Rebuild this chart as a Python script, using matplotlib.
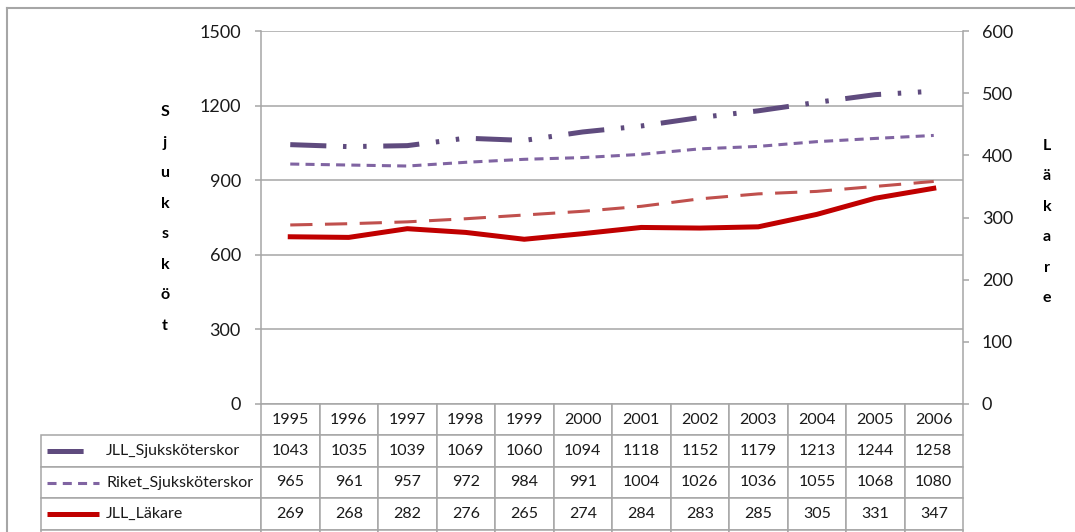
import matplotlib
matplotlib.use("Agg")
import matplotlib.pyplot as plt
from matplotlib.lines import Line2D

plt.rcParams["font.family"] = ["Lato", "DejaVu Sans"]
plt.rcParams["lines.scale_dashes"] = False

# data
years = ["1995", "1996", "1997", "1998", "1999", "2000",
         "2001", "2002", "2003", "2004", "2005", "2006"]
jll_ssk = [1043, 1035, 1039, 1069, 1060, 1094, 1118, 1152, 1179, 1213, 1244, 1258]
riket_ssk = [965, 961, 957, 972, 984, 991, 1004, 1026, 1036, 1055, 1068, 1080]
jll_lak = [269, 268, 282, 276, 265, 274, 284, 283, 285, 305, 331, 347]
riket_lak = [288, 290, 293, 298, 304, 310, 318, 330, 338, 342, 350, 358]
series_names = ["JLL_Sjuksköterskor", "Riket_Sjuksköterskor", "JLL_Läkare", "Riket_Läkare"]

GRID = "#a6a6a6"
styles = [
    dict(color="#5f4b7e", lw=3.6, ls=(0, (26, 12, 2.5, 12, 2.5, 12))),
    dict(color="#8064a2", lw=2.2, ls=(0, (6.5, 4.5))),
    dict(color="#c00000", lw=3.6, ls="-"),
    dict(color="#c0504d", lw=2.2, ls=(0, (16, 9))),
]

W, H = 1075, 532
fig = plt.figure(figsize=(W / 100, H / 100), dpi=100)
ax_l, ax_r, ax_t, ax_b = 261, 963, 31, 404
ax = fig.add_axes([ax_l / W, 1 - ax_b / H, (ax_r - ax_l) / W, (ax_b - ax_t) / H])
ax2 = ax.twinx()

x = list(range(len(years)))
ax.plot(x, jll_ssk, color=styles[0]["color"], lw=styles[0]["lw"], ls=styles[0]["ls"], zorder=3)
ax.plot(x, riket_ssk, color=styles[1]["color"], lw=styles[1]["lw"], ls=styles[1]["ls"], zorder=3)
ax2.plot(x, jll_lak, color=styles[2]["color"], lw=styles[2]["lw"], ls=styles[2]["ls"], zorder=3)
ax2.plot(x, riket_lak, color=styles[3]["color"], lw=styles[3]["lw"], ls=styles[3]["ls"], zorder=3)

ax.set_xlim(-0.5, len(years) - 0.5)
ax.set_ylim(0, 1500)
ax.set_yticks(range(0, 1501, 300))
ax2.set_ylim(0, 600)
ax2.set_yticks(range(0, 601, 100))
ax.set_xticks([])

ax.yaxis.grid(True, color=GRID, lw=1.1)
ax.set_axisbelow(True)
for a in (ax, ax2):
    for s in a.spines.values():
        s.set_visible(False)
ax.spines["left"].set_visible(True)
ax.spines["left"].set_color(GRID)
ax.spines["left"].set_linewidth(1.1)
ax2.spines["right"].set_visible(True)
ax2.spines["right"].set_color(GRID)
ax2.spines["right"].set_linewidth(1.1)
ax.tick_params(axis="y", length=4.5, width=1.1, color=GRID, pad=10, labelsize=13, labelcolor="#1a1a1a")
ax2.tick_params(axis="y", length=4.5, width=1.1, color=GRID, pad=9, labelsize=13, labelcolor="#1a1a1a")

# axis titles, one letter per line
fig.text(165 / W, 1 - 219 / H, "\n".join("Sjuksköt"), ha="center", va="center",
         fontsize=11.5, fontweight="bold", linespacing=2.5)
fig.text(1047 / W, 1 - 222 / H, "\n".join("Läkare"), ha="center", va="center",
         fontsize=11.5, fontweight="bold", linespacing=2.5)

# data table under the plot
rows = [jll_ssk, riket_ssk, jll_lak, riket_lak]
cell_text = [[name] + [str(v) for v in r] for name, r in zip(series_names, rows)]
tab_left = 41
n_rows = len(rows) + 1
row_h = 31.4
tab_h = n_rows * row_h
bbox = [(tab_left - ax_l) / (ax_r - ax_l), -tab_h / (ax_b - ax_t),
        (ax_r - tab_left) / (ax_r - ax_l), tab_h / (ax_b - ax_t)]
col_w = [ax_l - tab_left] + [(ax_r - ax_l) / len(years)] * len(years)
table = ax.table(cellText=cell_text, colLabels=[""] + years, colWidths=col_w,
                 bbox=bbox, cellLoc="center")
table.auto_set_font_size(False)
table.set_fontsize(11.5)
for (r, c), cell in table.get_celld().items():
    cell.set_edgecolor(GRID)
    cell.set_linewidth(1.1)
    cell.get_text().set_color("#1a1a1a")
    if r == 0 and c == 0:
        cell.visible_edges = ""
    if c == 0 and r > 0:
        cell.get_text().set_ha("left")
        cell.PAD = (106 - tab_left) / (ax_l - tab_left)

# legend keys inside the label cells
for i, st in enumerate(styles):
    yc = -(row_h * (i + 1.5)) / (ax_b - ax_t)
    x0 = (47 - ax_l) / (ax_r - ax_l)
    x1 = (99 - ax_l) / (ax_r - ax_l)
    ax.add_line(Line2D([x0, x1], [yc, yc], transform=ax.transAxes, clip_on=False,
                       color=st["color"], lw=st["lw"], ls=st["ls"],
                       solid_capstyle="butt", dash_capstyle="butt"))

# outer chart border (top and left visible)
fig.add_artist(Line2D([7 / W, 1.0], [1 - 8 / H, 1 - 8 / H], color=GRID, lw=1.5))
fig.add_artist(Line2D([7 / W, 7 / W], [0, 1 - 8 / H], color=GRID, lw=1.5))

fig.savefig("out.png", dpi=100)
